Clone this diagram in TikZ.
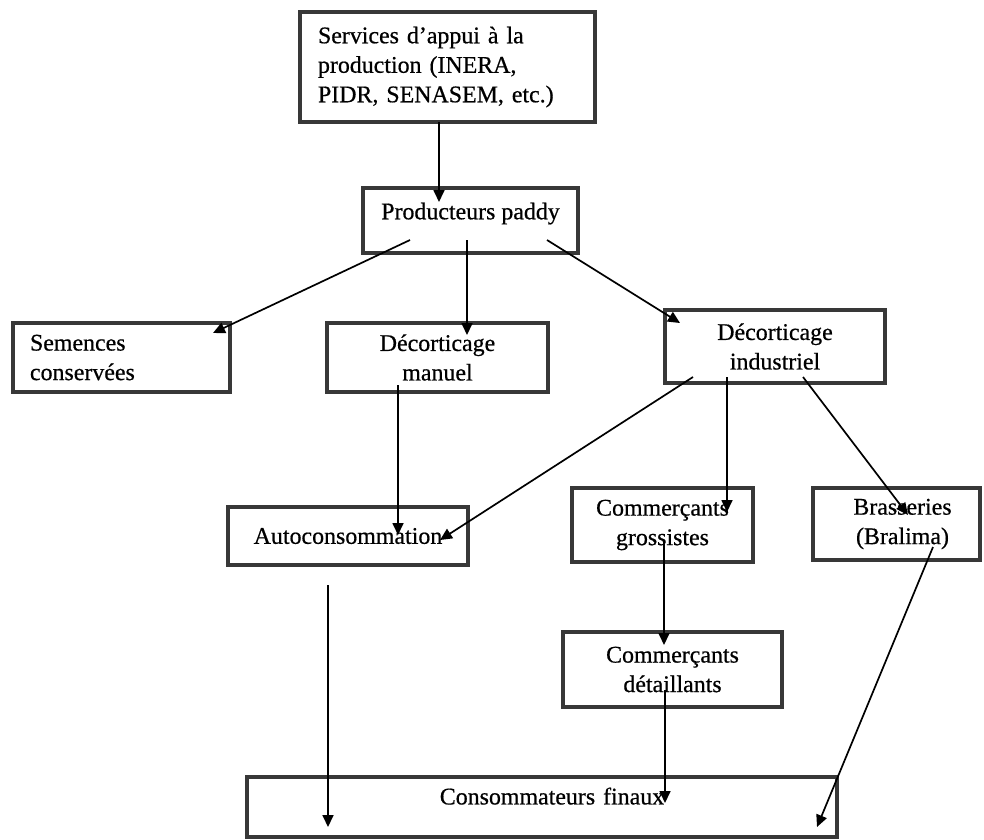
\documentclass[tikz,border=0pt]{standalone}
\usepackage{fontspec}
\setmainfont[FakeBold=0.6]{Liberation Serif}
\usetikzlibrary{arrows.meta,calc}
\begin{document}
\begin{tikzpicture}[x=1pt,y=-1pt,
  box/.style={draw=black!78, line width=4.5pt, rectangle, inner sep=0pt,
    outer sep=0pt, align=center, font=\fontsize{23.9}{29.5}\selectfont},
  conn/.style={line width=1.7pt, -{Triangle[length=12pt,width=11pt]}}]
\useasboundingbox[fill=white] (0,0) rectangle (984,839);

% boxes of the rice chain
\node[box, minimum width=295pt, minimum height=110pt, text width=259pt, align=left]
  (svc) at (447.5,67) {Services d’appui à la\\production (INERA,\\PIDR, SENASEM, etc.)};
\node[box, minimum width=215pt, minimum height=65pt, text depth=19pt]
  (prod) at (470.5,220.5) {Producteurs paddy};
\node[box, minimum width=217pt, minimum height=69pt, text width=183pt, align=left]
  (sem) at (121.5,357.5) {Semences\\conservées};
\node[box, minimum width=221pt, minimum height=69pt]
  (man) at (437.5,357.5) {Décorticage\\manuel};
\node[box, minimum width=220pt, minimum height=73pt]
  (ind) at (775,346.5) {Décorticage\\industriel};
\node[box, minimum width=240pt, minimum height=58pt]
  (auto) at (348,536) {Autoconsommation};
\node[box, minimum width=181pt, minimum height=74pt]
  (gros) at (662.5,525) {Commerçants\\grossistes};
\node[box, minimum width=167pt, minimum height=72pt, text width=167pt]
  (bras) at (896.5,524) {\hspace*{12pt}Brasseries\\\hspace*{12pt}(Bralima)};
\node[box, minimum width=219pt, minimum height=75pt]
  (det) at (672.5,669.5) {Commerçants\\détaillants};
\node[box, minimum width=590pt, minimum height=60pt, text width=590pt, text depth=22pt]
  (cons) at (542,807) {\hspace*{20pt}Consommateurs finaux};

% flows
\draw[conn] ($(svc.south)+(-8.5,0)$) -- ($(prod.north)+(-31.5,14)$);
\draw[conn] ($(prod.south)+(-60.5,-13)$) -- ($(sem.north)+(91.5,10)$);
\draw[conn] ($(prod.south)+(-3.5,-13)$) -- ($(man.north)+(29.5,12)$);
\draw[conn] ($(prod.south)+(76.5,-13)$) -- ($(ind.north)+(-95,13)$);
\draw[conn] ($(man.south)+(-39.5,-7)$) -- ($(auto.north)+(50,28)$);
\draw[conn] ($(ind.south)+(-82,-6)$) -- ($(auto.north)+(92,33)$);
\draw[conn] ($(ind.south)+(-48,-6)$) -- ($(gros.north)+(64.5,24)$);
\draw[conn] ($(ind.south)+(28,-6)$) -- ($(bras.north)+(11.5,27)$);
\draw[conn] ($(gros.south)+(1.5,-22)$) -- ($(det.north)+(-8.5,13)$);
\draw[conn] ($(det.south)+(-7.5,-17)$) -- ($(cons.north)+(123,26)$);
\draw[conn] ($(auto.south)+(-20,20)$) -- ($(cons.north)+(-214,50)$);
\draw[conn] ($(bras.south)+(36.5,-13)$) -- ($(cons.north)+(275,50)$);
\end{tikzpicture}
\end{document}
